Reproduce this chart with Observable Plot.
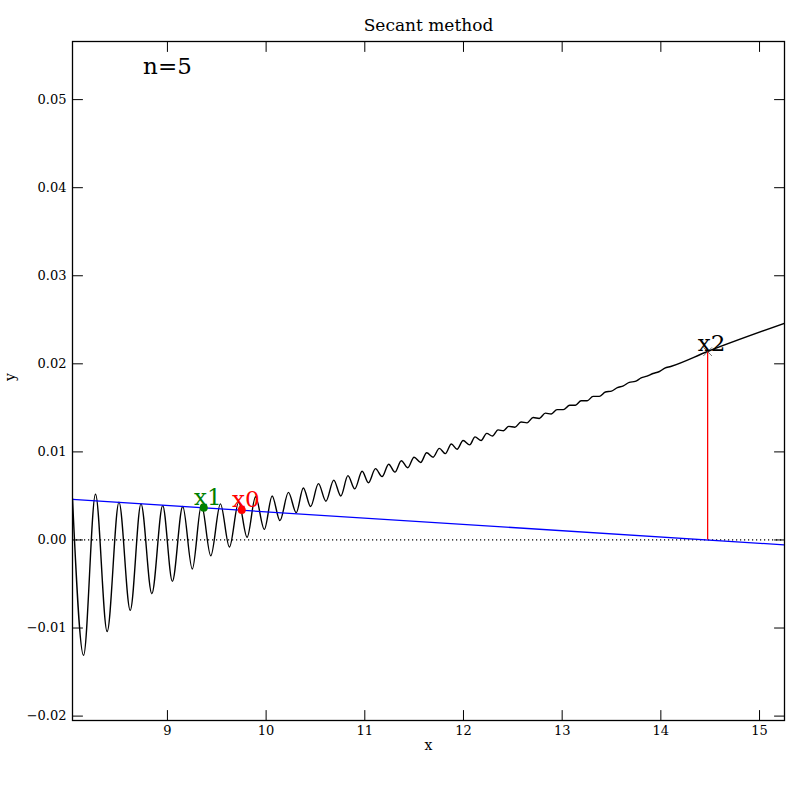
<!DOCTYPE html>
<html><head><meta charset="utf-8">
<script src="https://cdn.jsdelivr.net/npm/d3@7"></script>
<script src="https://cdn.jsdelivr.net/npm/@observablehq/plot@0.6"></script>
<style>body{margin:0;background:#fff} svg{display:block}</style>
</head><body><div id="chart"></div>
<script>
// Curve samples (peaks / troughs of the oscillating f(x))
const curveX = [8.038, 8.150, 8.271, 8.389, 8.509, 8.623, 8.732, 8.842, 8.952, 9.050,
  9.155, 9.252, 9.345, 9.439, 9.537, 9.628, 9.722, 9.807, 9.893, 9.982,
  10.061, 10.140, 10.226, 10.305, 10.377, 10.451, 10.530, 10.606, 10.685, 10.757,
  10.829, 10.898, 10.973, 11.037, 11.108, 11.175, 11.242, 11.305, 11.370, 11.435,
  11.499, 11.566, 11.627, 11.692, 11.755, 11.816, 11.877, 11.935, 11.996, 12.063,
  12.117, 12.179, 12.235, 12.294, 12.350, 12.405, 12.458, 12.521, 12.583, 12.644,
  12.706, 12.768, 12.830, 12.889, 12.948, 13.012, 13.076, 13.134, 13.192, 13.253,
  13.313, 13.376, 13.438, 13.500, 13.559, 13.620, 13.680, 13.740, 13.800, 13.860,
  13.920, 13.980, 14.040, 14.100, 14.474, 15.253];
const curveY = [0.0047, -0.0131, 0.0052, -0.0104, 0.0043, -0.0080, 0.0041, -0.0061, 0.0039, -0.0047,
  0.0038, -0.0033, 0.0040, -0.0018, 0.0041, -0.0008, 0.0043, 0.0003, 0.0049, 0.0012,
  0.0050, 0.0022, 0.0054, 0.0031, 0.0059, 0.0038, 0.0064, 0.0044, 0.0068, 0.0050,
  0.0073, 0.0058, 0.0078, 0.0065, 0.0081, 0.0072, 0.0086, 0.0077, 0.0090, 0.0082,
  0.0094, 0.0088, 0.0099, 0.0094, 0.0104, 0.0098, 0.0109, 0.0103, 0.0113, 0.0108,
  0.0117, 0.0113, 0.0121, 0.0118, 0.0125, 0.0124, 0.0129, 0.0128, 0.0134, 0.0133,
  0.0139, 0.0138, 0.0144, 0.0143, 0.0148, 0.0148, 0.0153, 0.0153, 0.0158, 0.0158,
  0.0163, 0.0163, 0.0168, 0.0169, 0.0173, 0.0175, 0.0179, 0.0180, 0.0184, 0.0186,
  0.0189, 0.0191, 0.0195, 0.0197, 0.0214, 0.0246];

// Secant line (blue)
const secantX = [8.038, 15.253];
const secantY = [0.0046, -0.00056];

// Iterates
const pointNames = ["x0", "x1"];
const pointX = [9.753, 9.368];
const pointY = [0.0034, 0.00365];
const pointColors = ["#ff0000", "#008000"];

const x2Name = ["x2"];
const x2X = [14.474];
const x2Y = [0.02138];

const annotationText = ["n=5"];
const annotationX = [9.0];
const annotationY = [0.0538];

const titleText = "Secant method";
const xLabel = "x";
const yLabel = "y";

const xDomain = [8.038, 15.253];
const yDomain = [-0.0205, 0.0566];
const xTicks = [9, 10, 11, 12, 13, 14, 15];
const yTicks = [-0.02, -0.01, 0, 0.01, 0.02, 0.03, 0.04, 0.05];

// tables built from the arrays
const curve = curveX.map((x, i) => ({x, y: curveY[i]}));
const secant = secantX.map((x, i) => ({x, y: secantY[i]}));
const pts = pointNames.map((n, i) => ({name: n, x: pointX[i], y: pointY[i], c: pointColors[i]}));
const x2pts = x2Name.map((n, i) => ({name: n, x: x2X[i], y: x2Y[i]}));
const ann = annotationText.map((t, i) => ({t, x: annotationX[i], y: annotationY[i]}));

const tickShape = {draw(context, l) { context.moveTo(0, 0); context.lineTo(0, -l); }};
const TL = 10;
const font = "DejaVu Serif";

const chart = Plot.plot({
  width: 800, height: 780,
  marginLeft: 72, marginRight: 16, marginTop: 41, marginBottom: 60,
  x: {domain: xDomain},
  y: {domain: yDomain},
  style: {fontFamily: font, fontSize: "13px", color: "black", background: "white"},
  marks: [
    Plot.ruleY([0], {stroke: "black", strokeWidth: 1.2, strokeDasharray: "1.2,2.8"}),
    Plot.line(curve, {x: "x", y: "y", curve: "monotone-x", stroke: "black", strokeWidth: 1.4, clip: true}),
    Plot.line(secant, {x: "x", y: "y", stroke: "#0000ff", strokeWidth: 1.3, clip: true}),
    Plot.ruleX(x2pts, {x: "x", y1: () => 0, y2: "y", stroke: "#ff0000", strokeWidth: 1.3}),
    Plot.dot(pts, {x: "x", y: "y", fill: "c", r: 4}),
    Plot.dot(x2pts, {x: "x", y: "y", symbol: "times", r: 4, stroke: "#333", strokeWidth: 0.7}),
    Plot.text(pts, {x: "x", y: "y", text: "name", fill: "c", fontFamily: font, fontSize: 23, dx: 4, dy: -3, lineAnchor: "bottom"}),
    Plot.text(x2pts, {x: "x", y: "y", text: "name", fill: "black", fontFamily: font, fontSize: 23, dx: 4, dy: -1, lineAnchor: "bottom"}),
    Plot.text(ann, {x: "x", y: "y", text: "t", fontFamily: font, fontSize: 23, fill: "black"}),
    Plot.frame({stroke: "black", strokeWidth: 1.3}),
    // inward ticks on four sides
    Plot.vector(xTicks, {x: d => d, y: () => yDomain[0], length: TL, rotate: 0, anchor: "start", shape: tickShape, stroke: "black", strokeWidth: 1}),
    Plot.vector(xTicks, {x: d => d, y: () => yDomain[1], length: TL, rotate: 180, anchor: "start", shape: tickShape, stroke: "black", strokeWidth: 1}),
    Plot.vector(yTicks, {y: d => d, x: () => xDomain[0], length: TL, rotate: 90, anchor: "start", shape: tickShape, stroke: "black", strokeWidth: 1}),
    Plot.vector(yTicks, {y: d => d, x: () => xDomain[1], length: TL, rotate: 270, anchor: "start", shape: tickShape, stroke: "black", strokeWidth: 1}),
    Plot.axisX(xTicks, {tickSize: 0, tickPadding: 5, fontFamily: font, fontSize: 13, label: null}),
    Plot.axisY(yTicks, {tickSize: 0, tickPadding: 6, fontFamily: font, fontSize: 13, label: null, tickFormat: d3.format(".2f")}),
    Plot.text([titleText], {frameAnchor: "top", lineAnchor: "middle", dy: -16, fontFamily: font, fontSize: 17, fill: "black"}),
    Plot.text([xLabel], {frameAnchor: "bottom", lineAnchor: "middle", dy: 25, fontFamily: font, fontSize: 14, fill: "black"}),
    Plot.text([yLabel], {frameAnchor: "left", dx: -62, rotate: -90, fontFamily: font, fontSize: 14, fill: "black"})
  ]
});
document.getElementById("chart").appendChild(chart);
</script>
</body></html>
